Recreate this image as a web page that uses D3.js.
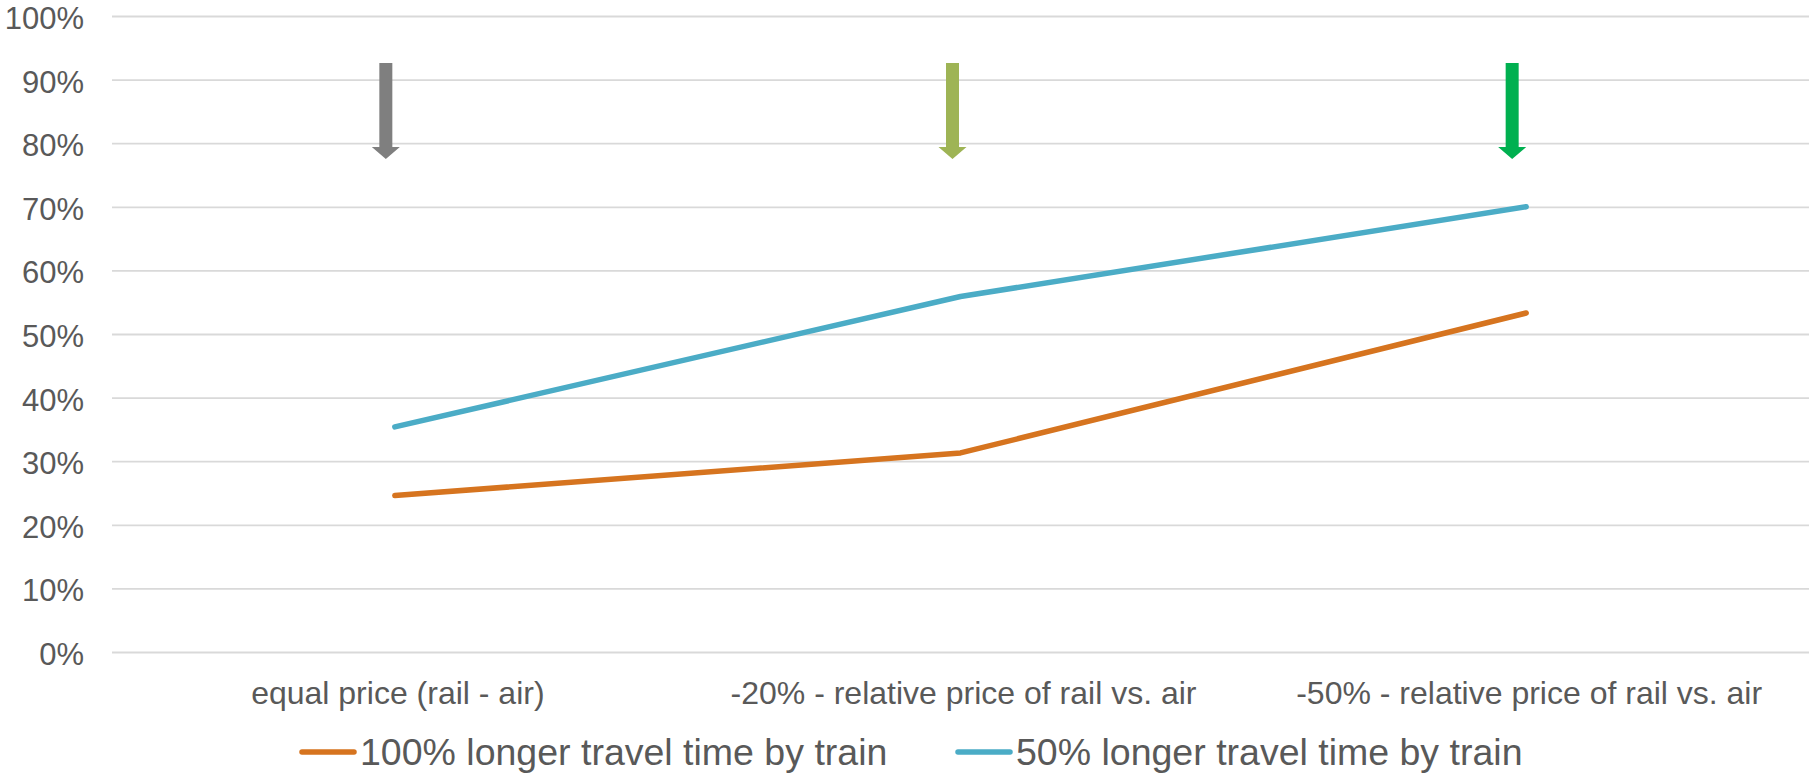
<!DOCTYPE html>
<html>
<head>
<meta charset="utf-8">
<script src="https://cdn.jsdelivr.net/npm/d3@7"></script>
<style>
  html, body { margin: 0; padding: 0; background: #ffffff; }
  svg { display: block; font-family: "Liberation Sans", Arial, sans-serif; }
</style>
</head>
<body>
<svg id="chart" width="1810" height="773"></svg>
<script>
// Categories along the x axis
const categories = [
  "equal price (rail - air)",
  "-20% - relative price of rail vs. air",
  "-50% - relative price of rail vs. air"
];

// Series values (share, in %)
const seriesNames = [
  "100% longer travel time by train",
  "50% longer travel time by train"
];
const longer100 = [24.6, 31.3, 53.3];
const longer50 = [35.4, 55.9, 70.0];
const seriesColors = ["#D6741F", "#4BACC6"];

// Y axis ticks
const yTicks = [0, 10, 20, 30, 40, 50, 60, 70, 80, 90, 100];

// Downward arrows above each category
const arrowColors = ["#7F7F7F", "#9EB455", "#00B050"];
const arrowTop = 92.6;
const arrowTip = 77.5;
const arrowNudge = [-9, -8, -14];

const svg = d3.select("#chart");
const textColor = "#595959";

const plot = { left: 112, right: 1809, top: 16, bottom: 652 };

const x = d3.scaleBand().domain(categories).range([plot.left, plot.right]).padding(0);
const y = d3.scaleLinear().domain([0, 100]).range([plot.bottom, plot.top]);
const cx = c => x(c) + x.bandwidth() / 2;

// Gridlines + y labels
const yAxis = d3.axisLeft(y)
  .tickValues(yTicks)
  .tickSize(-(plot.right - plot.left))
  .tickPadding(28)
  .tickFormat(d => d + "%");

const gy = svg.append("g")
  .attr("transform", `translate(${plot.left},0)`)
  .call(yAxis);
gy.select(".domain").remove();
gy.selectAll(".tick line").attr("stroke", "#D9D9D9").attr("stroke-width", 1.8);
gy.selectAll(".tick text")
  .attr("fill", textColor)
  .attr("dy", "0.4em")
  .style("font-size", "31px");

// Category labels
const xAxis = d3.axisBottom(x).tickSize(0).tickPadding(0);
const gx = svg.append("g")
  .attr("transform", `translate(0,${plot.bottom})`)
  .call(xAxis);
gx.select(".domain").remove();
gx.selectAll(".tick text")
  .attr("fill", textColor)
  .attr("dy", null)
  .attr("y", 52)
  .attr("dx", 3)
  .style("font-size", "32px");

// Series lines
const series = [longer100, longer50];
const line = d3.line()
  .x((d, i) => cx(categories[i]))
  .y(d => y(d));

series.forEach((vals, si) => {
  svg.append("path")
    .datum(vals)
    .attr("fill", "none")
    .attr("stroke", seriesColors[si])
    .attr("stroke-width", 5.5)
    .attr("stroke-linecap", "round")
    .attr("stroke-linejoin", "round")
    .attr("d", line);
});

// Arrows
const shaftW = 13, headW = 28, headH = 12;
arrowColors.forEach((col, i) => {
  const ax = cx(categories[i]) + arrowNudge[i];
  const top = y(arrowTop), tip = y(arrowTip), base = tip - headH;
  const pts = [
    [ax - shaftW / 2, top], [ax + shaftW / 2, top], [ax + shaftW / 2, base],
    [ax + headW / 2, base], [ax, tip], [ax - headW / 2, base], [ax - shaftW / 2, base]
  ];
  svg.append("path")
    .attr("d", d3.line()(pts) + "Z")
    .attr("fill", col);
});

// Legend
const legendY = 752;
const legendX = [302, 958];
seriesNames.forEach((name, i) => {
  const g = svg.append("g").attr("transform", `translate(${legendX[i]},${legendY})`);
  g.append("line")
    .attr("x1", 0).attr("x2", 52)
    .attr("y1", 0).attr("y2", 0)
    .attr("stroke", seriesColors[i])
    .attr("stroke-width", 5.5)
    .attr("stroke-linecap", "round");
  g.append("text")
    .attr("x", 58)
    .attr("y", 13)
    .attr("fill", textColor)
    .style("font-size", "37.5px")
    .text(name);
});
</script>
</body>
</html>
